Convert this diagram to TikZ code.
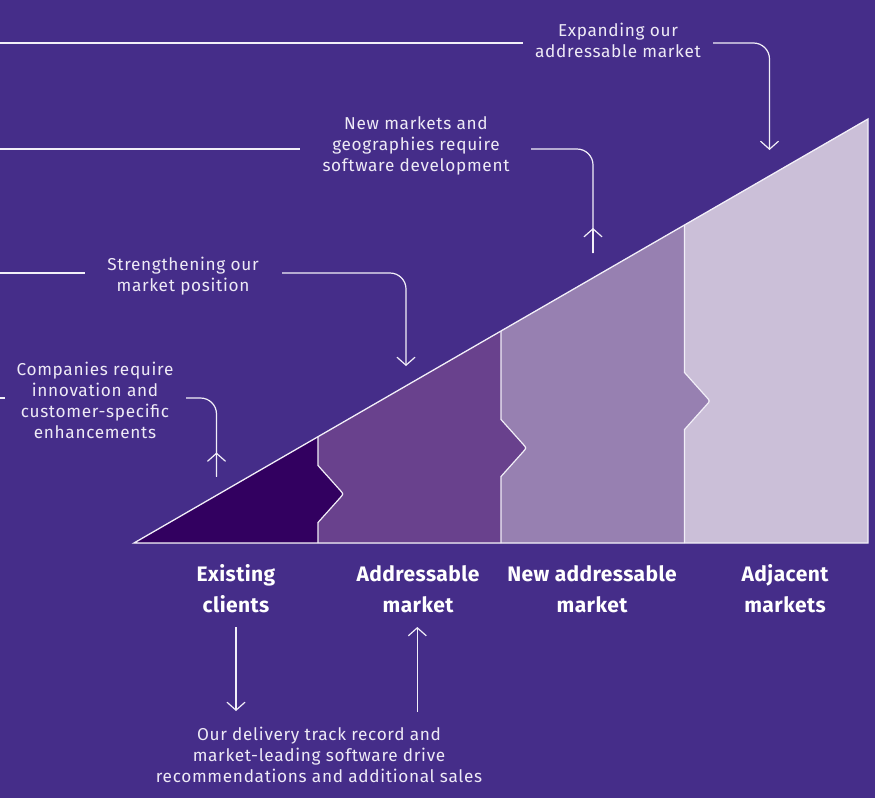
\documentclass[tikz,border=0pt]{standalone}
\usepackage{fontspec}
\setmainfont{Fira Sans}
\newfontfamily\bodyfont[LetterSpace=4]{Fira Sans}
\newfontfamily\labelfont[LetterSpace=2]{Fira Sans}
\usetikzlibrary{arrows.meta}
\definecolor{bgc}{HTML}{452D89}
\definecolor{segA}{HTML}{320060}
\definecolor{segB}{HTML}{69418D}
\definecolor{segC}{HTML}{9780B1}
\definecolor{segD}{HTML}{CBBFD8}
\definecolor{txt}{HTML}{EEEAF6}
\definecolor{lin}{HTML}{F2EFF8}
\newcommand\divpath[3]{-- (#1,#2) -- (#1,{#3-28.5}) -- ({#1+22.2},{#3-3.7}) .. controls ({#1+25.5},#3) .. ({#1+22.2},{#3+3.7}) -- (#1,{#3+28.5}) -- (#1,543)}
\newcommand\divline[3]{(#1,#2) -- (#1,{#3-28.5}) -- ({#1+22.2},{#3-3.7}) .. controls ({#1+25.5},#3) .. ({#1+22.2},{#3+3.7}) -- (#1,{#3+28.5}) -- (#1,543)}
\begin{document}
\begin{tikzpicture}[x=1pt,y=-1pt,
  conn/.style={draw=lin,line width=1.2pt,rounded corners=16pt},
  tipped/.style={-{Straight Barb[length=8pt,width=18pt,line width=1.2pt]}},
  bodytext/.style={text=txt,align=center,inner sep=0pt,font=\bodyfont\fontsize{17.2}{21}\selectfont},
  labeltext/.style={text=white,align=center,inner sep=0pt,font=\labelfont\fontsize{21}{31}\selectfont\bfseries}]
\fill[bgc] (0,0) rectangle (875,798);
\useasboundingbox (0,0) rectangle (875,798);
% triangle and segments
\coordinate (L) at (134,543);
\coordinate (TR) at (868,119);
\coordinate (BR) at (868,543);
\fill[segD] (L) -- (TR) -- (BR) -- cycle;
\fill[segC] (L) \divpath{684.5}{225.0}{401} -- cycle;
\fill[segB] (L) \divpath{501}{331.0}{448} -- cycle;
\fill[segA] (L) \divpath{318}{436.7}{494} -- cycle;
\draw[lin,line width=1.3pt,line join=miter] (L) -- (TR) -- (BR) -- cycle;
\draw[lin,line width=1.2pt] \divline{318}{436.7}{494};
\draw[lin,line width=1.2pt] \divline{501}{331.0}{448};
\draw[lin,line width=1.2pt] \divline{684.5}{225.0}{401};
% texts
\node[bodytext] (t1) at (618,40) {Expanding our\\addressable market};
\node[bodytext] (t2) at (416,146) {New markets and\\geographies require\\software development};
\node[bodytext] (t3) at (183,276) {Strengthening our\\market position};
\node[bodytext] (t4) at (95,400) {Companies require\\innovation and\\customer-specific\\enhancements};
\node[bodytext] (t5) at (319,755) {Our delivery track record and\\market-leading software drive\\recommendations and additional sales};
\node[labeltext] (l1) at (236,589) {Existing\\clients};
\node[labeltext] (l2) at (418,589) {Addressable\\market};
\node[labeltext] (l3) at (592,589) {New addressable\\market};
\node[labeltext] (l4) at (785,589) {Adjacent\\markets};
% connector end points
\coordinate (a1) at (0,43);   \coordinate (a2) at (523,43);
\coordinate (a3) at (713,43); \coordinate (a4) at (769.5,43); \coordinate (a5) at (769.5,150);
\coordinate (b1) at (0,149);  \coordinate (b2) at (300,149);
\coordinate (b3) at (531,149); \coordinate (b4) at (593,149); \coordinate (b5) at (593,253); \coordinate (b6) at (593,228);
\coordinate (c1) at (0,273);  \coordinate (c2) at (85,273);
\coordinate (c3) at (282,273); \coordinate (c4) at (406,273); \coordinate (c5) at (406,366);
\coordinate (d1) at (0,398);  \coordinate (d2) at (5,398);
\coordinate (d3) at (186,398); \coordinate (d4) at (216.5,398); \coordinate (d5) at (216.5,476.7); \coordinate (d6) at (216.5,452.5);
\coordinate (e1) at (236,627); \coordinate (e2) at (236,711);
\coordinate (f1) at (417.3,712); \coordinate (f2) at (417.3,627);
\draw[conn] (a1) -- (a2);
\draw[conn,tipped] (a3) -- (a4) -- (a5);
\draw[conn] (b1) -- (b2);
\draw[conn] (b3) -- (b4) -- (b5);
\draw[conn,tipped] (b5) -- (b6);
\draw[conn] (c1) -- (c2);
\draw[conn,tipped] (c3) -- (c4) -- (c5);
\draw[conn] (d1) -- (d2);
\draw[conn] (d3) -- (d4) -- (d5);
\draw[conn,tipped] (d5) -- (d6);
\draw[conn,tipped] (e1) -- (e2);
\draw[conn,tipped] (f1) -- (f2);
\end{tikzpicture}
\end{document}
